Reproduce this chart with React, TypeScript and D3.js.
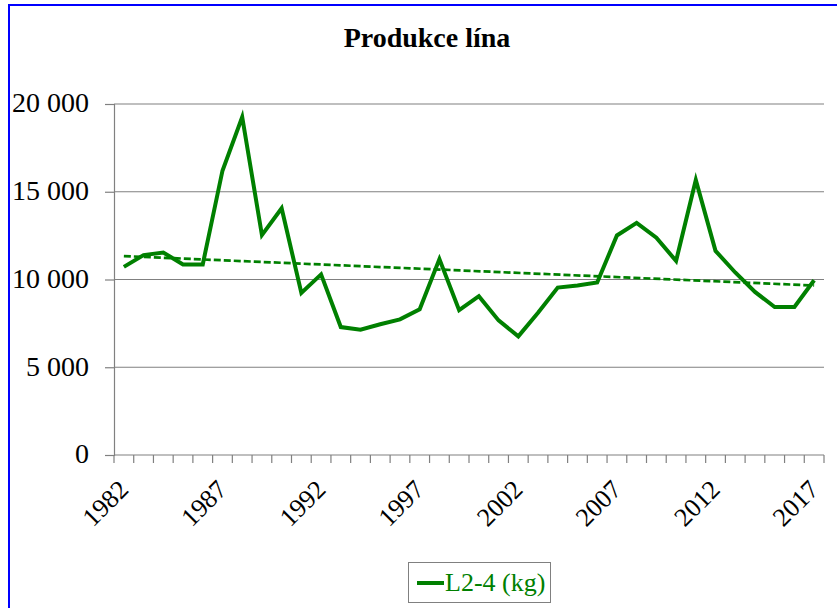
import * as React from 'react';
import { useRef, useEffect } from 'react';
import * as d3 from 'd3';

// production of tench, kg per year
const years = d3.range(1982, 2018);
const catch24 = [
  10720, 11390, 11540, 10860, 10860, 16200, 19260, 12530, 14060, 9230,
  10290, 7290, 7140, 7450, 7730, 8300, 11160, 8250, 9050, 7670,
  6760, 8100, 9540, 9660, 9830, 12510, 13230, 12380, 11060, 15670,
  11630, 10400, 9290, 8430, 8430, 9960,
];
const yTicks = [0, 5000, 10000, 15000, 20000];
const labelYears = [1982, 1987, 1992, 1997, 2002, 2007, 2012, 2017];
const seriesName = 'L2-4 (kg)';
const title = 'Produkce lína';

const W = 837;
const H = 608;
const green = '#008000';
const grid = '#808080';
const serif = '"Liberation Serif", "Times New Roman", serif';

const App = () => {
  const svgRef = useRef<SVGSVGElement>(null);

  useEffect(() => {
    const svg = d3.select(svgRef.current);
    svg.selectAll('*').remove();

    const x = d3.scaleBand<number>().domain(years).range([114, 824]);
    const y = d3.scaleLinear().domain([0, 20000]).range([455, 104]);
    const cx = (yr: number) => x(yr)! + x.bandwidth() / 2;

    const fmt = d3.formatLocale({
      decimal: ',', thousands: '\u00a0', grouping: [3], currency: ['', ''],
    }).format(',d');

    // outer frame
    svg.append('rect').attr('width', W).attr('height', H).attr('fill', '#fff');
    svg.append('path')
      .attr('d', `M9,${H + 5}V5H${W + 5}`)
      .attr('fill', 'none').attr('stroke', '#0000ff').attr('stroke-width', 2);

    svg.append('text')
      .attr('x', 427).attr('y', 47)
      .attr('text-anchor', 'middle')
      .style('font-family', serif).style('font-size', '28px').style('font-weight', 'bold')
      .text(title);

    // gridlines + y axis
    svg.append('g').selectAll('line').data(yTicks.filter(d => d > 0)).join('line')
      .attr('x1', 114).attr('x2', 824)
      .attr('y1', d => y(d)).attr('y2', d => y(d))
      .attr('stroke', grid).attr('stroke-width', 1.2);

    const yAxis = svg.append('g')
      .attr('transform', 'translate(114,0)')
      .call(d3.axisLeft(y).tickValues(yTicks).tickSize(9).tickFormat(d => fmt(+d)));
    yAxis.selectAll('line').attr('stroke', grid).attr('stroke-width', 1.2);
    yAxis.select('.domain').attr('stroke', grid).attr('stroke-width', 1.2);
    yAxis.selectAll('text')
      .attr('x', -25).attr('dy', '0.28em')
      .style('font-family', serif).style('font-size', '28px').attr('fill', '#000');

    // x axis: ticks on category edges
    const xAxis = svg.append('g').attr('transform', `translate(0,${y(0)})`);
    xAxis.append('line').attr('x1', 114).attr('x2', 824)
      .attr('stroke', grid).attr('stroke-width', 1.2);
    xAxis.selectAll('line.tick').data([...years, 2018]).join('line')
      .attr('class', 'tick')
      .attr('x1', d => (d === 2018 ? 824 : x(d)!)).attr('x2', d => (d === 2018 ? 824 : x(d)!))
      .attr('y1', 0).attr('y2', 8)
      .attr('stroke', grid).attr('stroke-width', 1.2);
    xAxis.selectAll('text').data(labelYears).join('text')
      .attr('transform', d => `translate(${cx(d) + 6},36) rotate(-45)`)
      .attr('text-anchor', 'end')
      .style('font-family', serif).style('font-size', '26px')
      .text(d => d);

    // linear trend
    const n = catch24.length;
    const mx = d3.mean(d3.range(n))!;
    const my = d3.mean(catch24)!;
    const slope = d3.sum(catch24, (v, i) => (i - mx) * (v - my)) /
      d3.sum(d3.range(n), i => (i - mx) ** 2);
    const trend = (i: number) => my + slope * (i - mx);
    svg.append('line')
      .attr('x1', cx(years[0])).attr('y1', y(trend(0)))
      .attr('x2', cx(years[n - 1])).attr('y2', y(trend(n - 1)))
      .attr('stroke', green).attr('stroke-width', 2.7).attr('stroke-dasharray', '7,3');

    const line = d3.line<number>()
      .x((_, i) => cx(years[i]))
      .y(d => y(d));
    svg.append('path')
      .datum(catch24)
      .attr('d', line)
      .attr('fill', 'none').attr('stroke', green).attr('stroke-width', 4)
      .attr('stroke-linejoin', 'miter');

    // legend
    const lg = svg.append('g');
    lg.append('rect')
      .attr('x', 408.5).attr('y', 562.5).attr('width', 142).attr('height', 40)
      .attr('fill', '#fff').attr('stroke', '#808080');
    lg.append('line')
      .attr('x1', 417).attr('x2', 444).attr('y1', 583).attr('y2', 583)
      .attr('stroke', green).attr('stroke-width', 4);
    lg.append('text')
      .attr('x', 445).attr('y', 591)
      .style('font-family', serif).style('font-size', '26px').attr('fill', green)
      .text(seriesName);
  }, []);

  return (
    <svg ref={svgRef} width={W} height={H}
      style={{ position: 'absolute', left: 0, top: 0, display: 'block' }} />
  );
};

export default App;
